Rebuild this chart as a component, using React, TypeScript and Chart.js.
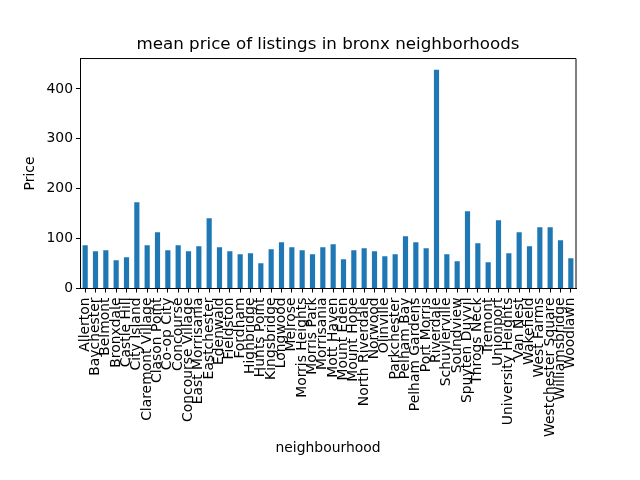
import React, { useEffect, useRef } from "react";
import { Chart, registerables } from "chart.js";

Chart.register(...registerables);

const categories = [
  "Allerton", "Baychester", "Belmont", "Bronxdale", "Castle Hill", "City Island",
  "Claremont Village", "Clason Point", "Co-op City", "Concourse", "Concourse Village",
  "East Morrisania", "Eastchester", "Edenwald", "Fieldston", "Fordham", "Highbridge",
  "Hunts Point", "Kingsbridge", "Longwood", "Melrose", "Morris Heights", "Morris Park",
  "Morrisania", "Mott Haven", "Mount Eden", "Mount Hope", "North Riverdale", "Norwood",
  "Olinville", "Parkchester", "Pelham Bay", "Pelham Gardens", "Port Morris", "Riverdale",
  "Schuylerville", "Soundview", "Spuyten Duyvil", "Throgs Neck", "Tremont", "Unionport",
  "University Heights", "Van Nest", "Wakefield", "West Farms", "Westchester Square",
  "Williamsbridge", "Woodlawn",
];

const prices = [
  86.7, 74.7, 76.7, 56.7, 62.7, 172.7,
  86.7, 112.7, 76.7, 86.7, 74.7,
  84.7, 140.7, 82.7, 74.7, 68.7, 70.7,
  50.7, 78.7, 92.7, 82.7, 76.7, 68.7,
  82.7, 88.7, 58.7, 76.7, 80.7, 74.7,
  64.7, 68.7, 104.7, 92.7, 80.7, 438.7,
  68.7, 54.7, 154.7, 90.7, 52.7, 136.7,
  70.7, 112.7, 84.7, 122.7, 122.7,
  96.7, 60.7,
];

const yTicks = [0, 100, 200, 300, 400];

const FONT = "'DejaVu Sans', sans-serif";

const boxPlugin = {
  id: "boxFrame",
  afterLayout(chart: any) {
    const tb = chart.titleBlock;
    const a = chart.chartArea;
    if (tb && a) {
      tb.left = a.left;
      tb.right = a.right;
      tb.width = a.right - a.left;
    }
  },
  afterDatasetsDraw(chart: any) {
    const { ctx, chartArea: a } = chart;
    ctx.save();
    ctx.strokeStyle = "#000";
    ctx.lineWidth = 1;
    ctx.beginPath();
    ctx.moveTo(a.left, a.top);
    ctx.lineTo(a.right, a.top);
    ctx.lineTo(a.right, a.bottom);
    ctx.stroke();
    ctx.restore();
  },
};

export default function App() {
  const ref = useRef<HTMLCanvasElement | null>(null);

  useEffect(() => {
    if (!ref.current) return;
    const chart = new Chart(ref.current, {
      type: "bar",
      data: {
        labels: categories,
        datasets: [
          {
            label: "price",
            data: prices,
            backgroundColor: "#1f77b4",
            barPercentage: 0.5,
            categoryPercentage: 1,
          },
        ],
      },
      options: {
        animation: false,
        responsive: true,
        maintainAspectRatio: false,
        layout: { padding: { left: 0, right: 64, top: 0, bottom: 19 } },
        plugins: {
          legend: { display: false },
          tooltip: { enabled: false },
          title: {
            display: true,
            text: "mean price of listings in bronx neighborhoods",
            color: "#000",
            font: { family: FONT, size: 16.7, weight: "normal" },
            padding: { top: 34.5, bottom: 4 },
          },
        },
        scales: {
          x: {
            type: "category",
            offset: true,
            grid: {
              offset: false,
              drawOnChartArea: false,
              drawTicks: true,
              tickLength: 4,
              color: "#000",
            },
            border: { display: true, color: "#000", width: 1 },
            ticks: {
              autoSkip: false,
              minRotation: 90,
              maxRotation: 90,
              padding: 5,
              color: "#000",
              font: { family: FONT, size: 13.9 },
            },
            title: {
              display: true,
              text: "neighbourhood",
              color: "#000",
              font: { family: FONT, size: 13.9 },
              padding: { top: 0, bottom: 4 },
            },
            afterFit(scale: any) {
              scale.height = 172.5;
            },
          },
          y: {
            type: "linear",
            min: 0,
            max: 461,
            grid: {
              drawOnChartArea: false,
              drawTicks: true,
              tickLength: 4,
              color: "#000",
            },
            border: { display: true, color: "#000", width: 1 },
            ticks: {
              padding: 3,
              color: "#000",
              font: { family: FONT, size: 13.9 },
            },
            afterBuildTicks(scale: any) {
              scale.ticks = yTicks.map((v) => ({ value: v }));
            },
            title: {
              display: true,
              text: "Price",
              color: "#000",
              font: { family: FONT, size: 13.9 },
              padding: { top: 22, bottom: 0 },
            },
            afterFit(scale: any) {
              scale.width = 80;
            },
          },
        },
      },
      plugins: [boxPlugin],
    });
    return () => chart.destroy();
  }, []);

  return (
    <div style={{ position: "absolute", left: 0, top: 0, width: 640, height: 480, background: "#fff" }}>
      <canvas ref={ref} />
    </div>
  );
}
